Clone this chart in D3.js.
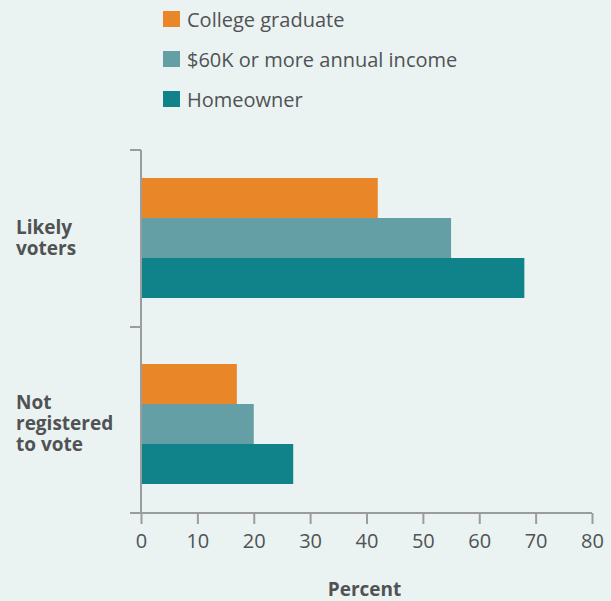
<!DOCTYPE html>
<html>
<head>
<meta charset="utf-8">
<script src="https://cdn.jsdelivr.net/npm/d3@7"></script>
<style>
  html, body { margin: 0; padding: 0; background: #eaf3f2; }
  svg { display: block; font-family: "Open Sans", "Liberation Sans", sans-serif; }
</style>
</head>
<body>
<svg id="chart" width="611" height="601"></svg>
<script>
const categories = ["Likely voters", "Not registered to vote"];
const categoryLines = [["Likely", "voters"], ["Not", "registered", "to vote"]];
const seriesNames = ["College graduate", "$60K or more annual income", "Homeowner"];
const collegeGraduate = [42, 17];
const income60k = [55, 20];
const homeowner = [68, 27];
const xTicks = [0, 10, 20, 30, 40, 50, 60, 70, 80];
const colors = ["#e98628", "#639fa5", "#10838a"];

const seriesValues = [collegeGraduate, income60k, homeowner];

const svg = d3.select("#chart");
const textColor = "#505254";
const axisColor = "#9a9c9e";

// scales
const x = d3.scaleLinear().domain([0, 80]).range([141, 592]);
const y = d3.scaleBand().domain(categories).range([145, 517]).padding(0);
const ySub = d3.scaleBand().domain(seriesNames).range([0, y.bandwidth()]).paddingInner(0).paddingOuter(0.825);

// bars
const rows = [];
categories.forEach((c, ci) => {
  seriesNames.forEach((s, si) => {
    rows.push({ cat: c, series: s, value: seriesValues[si][ci], color: colors[si] });
  });
});
svg.append("g").selectAll("rect").data(rows).join("rect")
  .attr("x", x(0))
  .attr("y", d => y(d.cat) + ySub(d.series))
  .attr("width", d => x(d.value) - x(0))
  .attr("height", ySub.bandwidth())
  .attr("fill", d => d.color);

// x axis
const axisY = 513;
const xAxis = svg.append("g").attr("transform", `translate(0,${axisY})`)
  .call(d3.axisBottom(x).tickValues(xTicks).tickSize(11).tickPadding(10).tickFormat(d3.format("d")));
xAxis.select(".domain").remove();
xAxis.append("line").attr("x1", 130).attr("x2", x(80)).attr("y1", 0).attr("y2", 0)
  .attr("stroke", axisColor).attr("stroke-width", 2);
xAxis.selectAll(".tick line").attr("stroke", axisColor).attr("stroke-width", 2);
xAxis.selectAll(".tick text").attr("fill", textColor).attr("font-size", 20)
  .attr("font-family", "Open Sans, Liberation Sans, sans-serif");

// y axis line and ticks
const yAxisTop = 150;
const yAxisTicks = [150, 327, 513];
const yg = svg.append("g");
yg.append("line").attr("x1", x(0)).attr("x2", x(0)).attr("y1", yAxisTop).attr("y2", axisY)
  .attr("stroke", axisColor).attr("stroke-width", 2);
yg.selectAll("line.tk").data(yAxisTicks).join("line").attr("class", "tk")
  .attr("x1", 130).attr("x2", x(0)).attr("y1", d => d).attr("y2", d => d)
  .attr("stroke", axisColor).attr("stroke-width", 2);

// category labels
const labelFirstBaseline = [233.5, 408.5];
categories.forEach((c, ci) => {
  const t = svg.append("text").attr("x", 16).attr("y", labelFirstBaseline[ci])
    .attr("fill", textColor).attr("font-size", 19).attr("font-weight", 700);
  categoryLines[ci].forEach((ln, li) => {
    t.append("tspan").attr("x", 16).attr("dy", li === 0 ? 0 : 21).text(ln);
  });
});

// x axis title
svg.append("text").attr("x", (x(0) + x(80)) / 2 - 2).attr("y", 596)
  .attr("text-anchor", "middle").attr("fill", textColor)
  .attr("font-size", 19).attr("font-weight", 700).text("Percent");

// legend
const legend = svg.append("g");
seriesNames.forEach((s, si) => {
  const g = legend.append("g").attr("transform", `translate(163,${11 + si * 40})`);
  g.append("rect").attr("width", 17).attr("height", 16).attr("fill", colors[si]);
  g.append("text").attr("x", 24).attr("y", 16).attr("fill", textColor)
    .attr("font-size", 20).text(s);
});
</script>
</body>
</html>
